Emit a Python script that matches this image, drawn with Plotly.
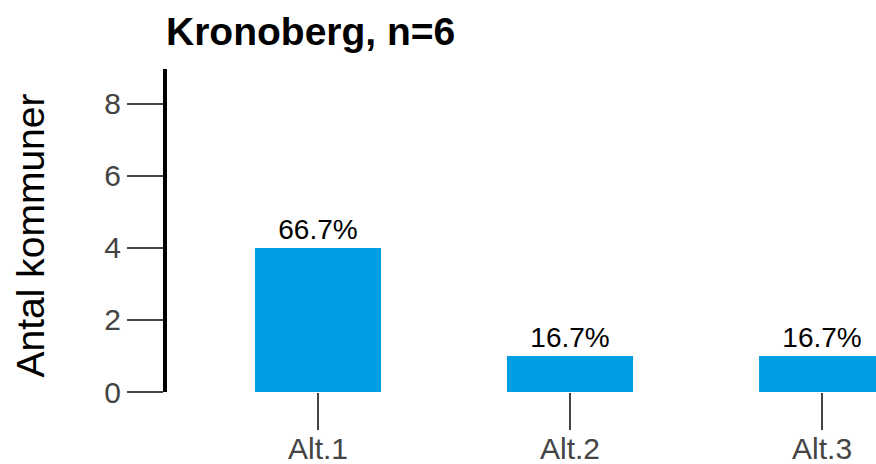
import plotly.graph_objects as go

FONT = "Liberation Sans, Arial, sans-serif"

# ---- data ----
region = "Kronoberg"
n_total = 6
categories = ["Alt.1", "Alt.2", "Alt.3"]
counts = [4, 1, 1]
pct_labels = ["66.7%", "16.7%", "16.7%"]
y_tickvals = [0, 2, 4, 6, 8]
y_title = "Antal kommuner"

W, H = 876, 464
ML, MR, MT, MB = 167, 0, 69, 72
PW = W - ML - MR
PH = H - MT - MB


def px_to_paper_x(px):
    return (px - ML) / PW


def px_to_paper_y(py):
    return (H - MB - py) / PH


fig = go.Figure(
    go.Bar(
        x=categories,
        y=counts,
        text=pct_labels,
        textposition="outside",
        textangle=0,
        textfont=dict(size=28, color="black", family=FONT),
        marker=dict(color="#009FE3", line=dict(width=0)),
        width=0.5,
        cliponaxis=True,
        hoverinfo="skip",
    )
)

fig.update_layout(
    width=W,
    height=H,
    autosize=False,
    margin=dict(l=ML, r=MR, t=MT, b=MB, pad=0),
    plot_bgcolor="white",
    paper_bgcolor="white",
    font=dict(family=FONT, color="#444"),
    showlegend=False,
    xaxis=dict(
        type="category",
        range=[-0.599, 2.214],
        showline=False,
        showgrid=False,
        zeroline=False,
        ticks="outside",
        ticklen=37,
        tickwidth=2,
        tickcolor="#444",
        ticklabelstandoff=-7,
        tickfont=dict(size=30, color="#444", family=FONT),
        automargin=False,
    ),
    yaxis=dict(
        range=[0, 8.97],
        showline=True,
        linewidth=4,
        linecolor="black",
        showgrid=False,
        zeroline=False,
        ticks="outside",
        ticklen=36,
        tickwidth=2,
        tickcolor="#444",
        tickvals=y_tickvals,
        tickfont=dict(size=30, color="#444", family=FONT),
        automargin=False,
    ),
    annotations=[
        dict(
            text=f"<b>{region}, n={n_total}</b>",
            xref="paper", yref="paper",
            x=px_to_paper_x(164), y=px_to_paper_y(31.5),
            xanchor="left", yanchor="middle",
            showarrow=False,
            font=dict(size=39, color="black", family=FONT),
        ),
        dict(
            text=y_title,
            xref="paper", yref="paper",
            x=px_to_paper_x(29.5), y=px_to_paper_y(236),
            xanchor="center", yanchor="middle",
            textangle=-90,
            showarrow=False,
            font=dict(size=39, color="black", family=FONT),
        ),
    ],
)

fig.write_html(
    "out.html",
    config={"displayModeBar": False, "staticPlot": True},
    post_script="document.body.style.margin='0';document.body.style.padding='0';document.body.style.overflow='hidden';",
)
